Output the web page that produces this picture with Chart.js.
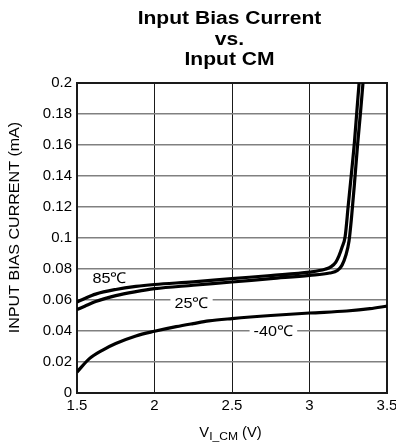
<!DOCTYPE html>
<html><head><meta charset="utf-8">
<script src="https://cdn.jsdelivr.net/npm/chart.js@4.4.1/dist/chart.umd.min.js"></script>
<style>html,body{margin:0;padding:0;background:#fff}</style>
</head><body>
<canvas id="c" width="396" height="445"></canvas>
<script>
// ---- text ----
const titleLines = ['Input Bias Current', 'vs.', 'Input CM'];
const yAxisTitle = 'INPUT BIAS CURRENT (mA)';
const xTitleMain = 'V';
const xTitleSub = 'I_CM';
const xTitleUnit = ' (V)';
const xTickLabels = ['1.5', '2', '2.5', '3', '3.5'];
const yTickLabels = ['0', '0.02', '0.04', '0.06', '0.08', '0.1', '0.12', '0.14', '0.16', '0.18', '0.2'];
const seriesNames = ['85\u2103', '25\u2103', '-40\u2103'];

// ---- data (V, mA) ----
const v85 = [1.5, 1.55, 1.62, 1.75, 1.88, 2.0, 2.25, 2.5, 2.75, 3.0, 3.1, 3.14, 3.17, 3.19, 3.21, 3.23, 3.25, 3.27, 3.29, 3.305, 3.32];
const i85 = [0.0587, 0.0610, 0.0638, 0.0668, 0.0688, 0.070, 0.0717, 0.0738, 0.0758, 0.078, 0.0798, 0.0815, 0.0845, 0.0885, 0.094, 0.101, 0.121, 0.141, 0.162, 0.181, 0.2];
const v25 = [1.5, 1.55, 1.62, 1.75, 1.88, 2.0, 2.25, 2.5, 2.75, 3.0, 3.13, 3.18, 3.21, 3.235, 3.255, 3.27, 3.29, 3.31, 3.33, 3.345];
const i25 = [0.0538, 0.0560, 0.0590, 0.0628, 0.0654, 0.0673, 0.0695, 0.0716, 0.0738, 0.0759, 0.0774, 0.079, 0.0825, 0.089, 0.098, 0.112, 0.135, 0.16, 0.182, 0.2];
const vM40 = [1.5, 1.58, 1.666, 1.75, 1.88, 2.0, 2.14, 2.25, 2.35, 2.5, 2.75, 3.0, 3.24, 3.39, 3.5];
const iM40 = [0.0135, 0.0222, 0.0277, 0.0319, 0.0368, 0.0398, 0.0428, 0.0448, 0.0465, 0.048, 0.0500, 0.0516, 0.0529, 0.0544, 0.0561];
// label anchors in data units (V, mA)
const labelV = [1.71, 2.239, 2.767];
const labelI = [0.0738, 0.0577, 0.0394];

const F = "'Liberation Sans', Arial, Helvetica, sans-serif";
const pts = (xs, ys) => xs.map((x, k) => ({x: x, y: ys[k]}));

function stretchText(ctx, text, x, y, sx, align) {
  ctx.save();
  ctx.translate(x, y);
  ctx.scale(sx, 1);
  ctx.textAlign = align;
  ctx.fillText(text, 0, 0);
  ctx.restore();
}

const decor = {
  id: 'decor',
  beforeDatasetsDraw(chart) {
    const {ctx, chartArea: a} = chart;
    ctx.save();
    ctx.strokeStyle = '#1a1a1a';
    ctx.lineWidth = 2;
    ctx.strokeRect(a.left, a.top, a.right - a.left, a.bottom - a.top);
    ctx.restore();
  },
  afterDatasetsDraw(chart) {
    const {ctx, scales: {x, y}} = chart;
    ctx.save();
    ctx.font = '15px ' + F;
    ctx.textBaseline = 'middle';
    ctx.textAlign = 'center';
    seriesNames.forEach((name, k) => {
      const px = x.getPixelForValue(labelV[k]);
      const py = y.getPixelForValue(labelI[k]);
      const w = ctx.measureText(name).width * 1.08;
      ctx.fillStyle = '#fff';
      ctx.fillRect(px - w / 2 - 4, py - 6, w + 8, 12);
      ctx.fillStyle = '#000';
      stretchText(ctx, name, px, py, 1.08, 'center');
    });
    ctx.restore();
  },
  afterDraw(chart) {
    const {ctx} = chart;
    ctx.save();
    ctx.fillStyle = '#000';
    ctx.textBaseline = 'alphabetic';
    // title
    ctx.font = 'bold 18px ' + F;
    const base = [24, 44.8, 65];
    titleLines.forEach((t, k) => stretchText(ctx, t, 229.5, base[k], 1.17, 'center'));
    // y axis title
    ctx.font = '15px ' + F;
    ctx.save();
    ctx.translate(18.5, 227.5);
    ctx.rotate(-Math.PI / 2);
    ctx.scale(1.07, 1);
    ctx.textAlign = 'center';
    ctx.fillText(yAxisTitle, 0, 0);
    ctx.restore();
    // x axis title with subscript
    const sx = 1.05;
    ctx.font = '14px ' + F;
    const wV = ctx.measureText(xTitleMain).width;
    const wU = ctx.measureText(xTitleUnit).width;
    ctx.font = '11.5px ' + F;
    const wS = ctx.measureText(xTitleSub).width;
    const total = (wV + wS + wU) * sx;
    let cx = 230.5 - total / 2;
    ctx.font = '14px ' + F;
    stretchText(ctx, xTitleMain, cx, 436.7, sx, 'left');
    cx += wV * sx;
    ctx.font = '11.5px ' + F;
    stretchText(ctx, xTitleSub, cx, 439.5, sx, 'left');
    cx += wS * sx;
    ctx.font = '14px ' + F;
    stretchText(ctx, xTitleUnit, cx, 436.7, sx, 'left');
    ctx.restore();
  }
};

const lineDs = (data) => ({
  data: data,
  borderColor: '#000',
  borderWidth: 3.2,
  pointRadius: 0,
  fill: false,
  cubicInterpolationMode: 'monotone'
});

new Chart(document.getElementById('c'), {
  type: 'line',
  data: {
    datasets: [lineDs(pts(v85, i85)), lineDs(pts(v25, i25)), lineDs(pts(vM40, iM40))]
  },
  options: {
    responsive: false,
    animation: false,
    devicePixelRatio: 1,
    layout: {padding: {left: 0, right: 9, top: 83, bottom: 0}},
    plugins: {legend: {display: false}, title: {display: false}, tooltip: {enabled: false}},
    scales: {
      x: {
        type: 'linear', min: 1.5, max: 3.5,
        ticks: {stepSize: 0.5, padding: 4, color: '#000', maxRotation: 0, autoSkip: false,
          font: {size: 15, family: F},
          callback: (v, i) => xTickLabels[i]},
        grid: {color: '#1a1a1a', lineWidth: 1, drawTicks: false},
        border: {display: false},
        afterFit: s => { s.height = 52; s.paddingLeft = 0; s.paddingRight = 0; }
      },
      y: {
        type: 'linear', min: 0, max: 0.2,
        ticks: {stepSize: 0.02, padding: 5, color: '#000', autoSkip: false,
          font: {size: 15, family: F},
          callback: (v, i) => yTickLabels[i]},
        grid: {color: '#808080', lineWidth: 1.5, drawTicks: false},
        border: {display: false},
        afterFit: s => { s.width = 77; s.paddingTop = 0; s.paddingBottom = 0; }
      }
    }
  },
  plugins: [decor]
});
</script>
</body></html>
